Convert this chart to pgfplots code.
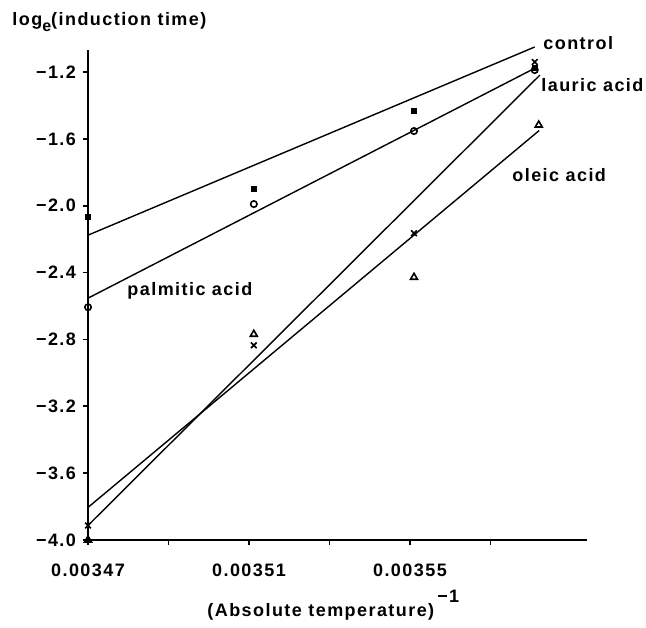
\documentclass[border=0pt]{standalone}
\usepackage{fontspec}
\setmainfont{Liberation Sans}[LetterSpace=8]
\usepackage{pgfplots}
\pgfplotsset{compat=1.18}
\tikzset{lbl/.style={anchor=west, inner sep=0pt, font=\bfseries\fontsize{9}{10}\selectfont}}

\begin{document}
\begin{tikzpicture}
\begin{axis}[
    scale only axis,
    width=249.5pt, height=245pt,
    xmin=0.00347, xmax=0.003594,
    ymin=-4.0, ymax=-1.068,
    axis lines*=left,
    axis line style={line width=1pt},
    clip=false,
    scaled x ticks=false,
    xtick={0.00347,0.00349,0.00351,0.00353,0.00355,0.00357},
    xticklabels={0.00347,,0.00351,,0.00355,},
    ytick={-4.0,-3.6,-3.2,-2.8,-2.4,-2.0,-1.6,-1.2},
    yticklabels={−4.0,−3.6,−3.2,−2.8,−2.4,−2.0,−1.6,−1.2},
    tick align=outside,
    major tick length=2.5pt,
    tick style={black, line width=0.8pt},
    tick label style={font=\bfseries\fontsize{9}{10}\selectfont},
    xticklabel style={yshift=-6pt},
    /pgf/number format/assume math mode=true,
]
% fitted lines
\addplot[black, line width=0.7pt] coordinates {(0.00347,-2.176) (0.003581,-1.050)};
\addplot[black, line width=0.7pt] coordinates {(0.00347,-2.553) (0.0035816,-1.170)};
\addplot[black, line width=0.7pt] coordinates {(0.00347,-3.913) (0.0035823,-1.218)};
\addplot[black, line width=0.7pt] coordinates {(0.00347,-3.805) (0.0035821,-1.550)};

% control
\addplot[only marks, mark=square*, mark size=1.3pt, black] coordinates {
    (0.00347,-2.068) (0.0035112,-1.901) (0.003551,-1.434) (0.003581,-1.176)};
% palmitic acid
\addplot[only marks, mark=o, mark size=1.6pt, black, line width=0.8pt] coordinates {
    (0.00347,-2.607) (0.0035112,-1.990) (0.003551,-1.553) (0.003581,-1.188)};
% lauric acid
\addplot[only marks, mark=x, mark size=2pt, black, line width=0.8pt] coordinates {
    (0.00347,-3.913) (0.0035112,-2.835) (0.003551,-2.164) (0.003581,-1.140)};
% oleic acid
\addplot[only marks, mark=triangle, mark size=2pt, black, line width=0.8pt] coordinates {
    (0.00347,-4.0) (0.0035112,-2.769) (0.003551,-2.428) (0.003582,-1.517)};

\node[lbl] at (rel axis cs:0.9118,1.0143) {control};
\node[lbl] at (rel axis cs:0.9078,0.9286) {lauric acid};
\node[lbl] at (rel axis cs:0.8497,0.7449) {oleic acid};
\node[lbl] at (rel axis cs:0.0782,0.5082) {palmitic acid};

\node[lbl] at (rel axis cs:-0.1523,1.0571)
    {log\raisebox{-0.6ex}{\fontsize{8}{9}\selectfont e}(induction time)};
\node[lbl, anchor=base west] at (rel axis cs:0.2385,-0.157)
    {(Absolute temperature)\,\raisebox{1.5ex}{−1}};

\coordinate (bbll) at (rel axis cs:-0.1764,-0.1796);
\coordinate (bbur) at (rel axis cs:1.1182,1.102);
\end{axis}
\pgfresetboundingbox
\path[use as bounding box] (bbll) rectangle (bbur);
\end{tikzpicture}
\end{document}
